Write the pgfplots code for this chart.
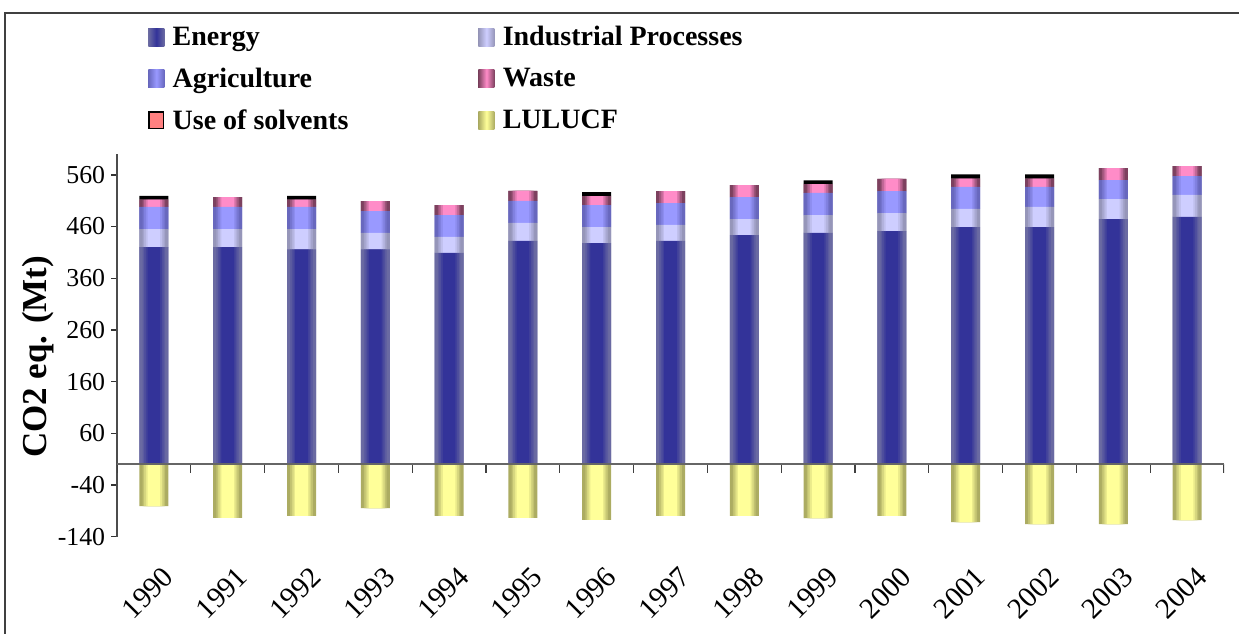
\documentclass[border=0pt]{standalone}
\usepackage{pgfplots}
\pgfplotsset{compat=1.18}
\usepackage{pgfplotstable}
\usepackage{fontspec}
\setmainfont{Liberation Serif}
\definecolor{enE}{RGB}{106,106,162}
\definecolor{enM}{RGB}{51,51,153}
\definecolor{ipE}{RGB}{150,150,185}
\definecolor{ipM}{RGB}{206,206,255}
\definecolor{agE}{RGB}{104,104,190}
\definecolor{agM}{RGB}{153,153,255}
\definecolor{waE}{RGB}{125,65,95}
\definecolor{waM}{RGB}{255,140,200}
\definecolor{soC}{RGB}{255,128,128}
\definecolor{luE}{RGB}{172,172,98}
\definecolor{luM}{RGB}{255,255,153}

% E energy, IP industrial processes, Ag agriculture, W waste, S use of solvents, L LULUCF (Mt CO2 eq.)
\pgfplotstableread{
x  E     IP    Ag    W     S    L
0  420   35    43    14.7  6.4  -81
1  420   35    43    19    0    -103.5
2  416   39    43    14.7  6.4  -100
3  416   31.5  42.5  19    0    -85
4  409   31    42    19.5  0    -100
5  432   35    42.5  19.5  0    -103.5
6  428   31    42.5  18    6.9  -107.5
7  432   31    42.5  23    0    -100
8  443.5 31    42.5  23    0    -100
9  447.5 34.5  43    17.3  7.1  -104
10 451   35    42.5  23.5  0    -100
11 459   35    42.5  16.8  7.5  -112
12 459   39    38.5  16.8  7.5  -115.5
13 474.5 38.5  37    23    0    -115.5
14 478.5 42.5  36.5  19.5  0    -108
}\data

\pgfplotsset{
  legshade/.style n args={2}{legend image code/.code={%
    \path[draw=none, left color=#1, right color=#1, middle color=#2] (0pt,-5.4pt) rectangle (9.6pt,5.4pt);
    \path[draw=none, fill=none] (9.6pt,0pt) -- (12.6pt,0pt);}},
  common/.style={
    width=664.2pt, height=229.5pt, scale only axis,
    at={(70.2pt,57.8pt)}, anchor=south west,
    xmin=-0.5, xmax=14.5, ymin=-140, ymax=600,
    bar width=17.4pt,
  },
}
\newcommand{\barlayer}[2]{%
\begin{axis}[common, hide axis, ybar stacked, bar width=#1]
\addplot[draw=none, fill=enM!#2!enE] table[x=x, y=E] {\data};
\addplot[draw=none, fill=ipM!#2!ipE] table[x=x, y=IP] {\data};
\addplot[draw=none, fill=agM!#2!agE] table[x=x, y=Ag] {\data};
\addplot[draw=none, fill=waM!#2!waE] table[x=x, y=W] {\data};
\end{axis}
\begin{axis}[common, hide axis, ybar, bar width=#1]
\addplot[draw=none, fill=luM!#2!luE] table[x=x, y=L] {\data};
\end{axis}}

\begin{document}
\begin{tikzpicture}
\path[use as bounding box] (0,0) rectangle (743.4pt,379.8pt);
\draw[line width=1.2pt, black!75] (3pt,-2pt) -- (3pt,372pt) -- (746pt,372pt);

\begin{axis}[common,
  ybar stacked,
  axis y line*=left, axis x line*=bottom,
  x axis line style={draw=none},
  y axis line style={black!70, line width=0.8pt},
  xtick={0,...,14},
  xticklabels={1990,1991,1992,1993,1994,1995,1996,1997,1998,1999,2000,2001,2002,2003,2004},
  major x tick style={draw=none},
  xticklabel style={rotate=45, anchor=east, xshift=-2.8pt, yshift=-18.7pt, font=\fontsize{17.5}{20}\selectfont},
  ytick={-140,-40,60,160,260,360,460,560},
  yticklabels={-140,-40,60,160,260,360,460,560},
  yticklabel style={font=\fontsize{15.5}{18}\selectfont},
  major y tick style={black!80, line width=0.8pt},
  tick align=outside, major tick length=3.6pt,
  ylabel={CO2 eq. (Mt)},
  every axis y label/.style={at={(axis description cs:-0.071,0.47)}, rotate=90, anchor=center, font=\bfseries\fontsize{21}{24}\selectfont},
  legend columns=2,
  legend style={draw=none, fill=none, at={(axis description cs:0.0235,1.352)}, anchor=north west,
    font=\bfseries\fontsize{16.8}{20}\selectfont, cells={anchor=west}, row sep=7.7pt,
    /tikz/every even column/.append style={column sep=76pt}},
]
\addplot[draw=none, fill=enE, legshade={enE}{enM}] table[x=x, y=E] {\data};
\addlegendentry{Energy}
\addplot[draw=none, fill=ipE, legshade={ipE}{ipM}] table[x=x, y=IP] {\data};
\addlegendentry{Industrial Processes}
\addplot[draw=none, fill=agE, legshade={agE}{agM}] table[x=x, y=Ag] {\data};
\addlegendentry{Agriculture}
\addplot[draw=none, fill=waE, legshade={waE}{waM}] table[x=x, y=W] {\data};
\addlegendentry{Waste}
\addplot[draw=none, fill=none,
  legend image code/.code={\draw[fill=soC, draw=black, line width=1pt] (0.5pt,-4.9pt) rectangle (9.1pt,4.9pt); \path[draw=none, fill=none] (9.6pt,0pt) -- (12.6pt,0pt);}] table[x=x, y=S] {\data};
\addlegendentry{Use of solvents}
\addlegendimage{draw=none, fill=none, legshade={luE}{luM}}
\addlegendentry{LULUCF}
\end{axis}

\barlayer{17.4pt}{0}
\barlayer{13.6pt}{25}
\barlayer{11.6pt}{50}
\barlayer{9.6pt}{75}
\barlayer{7.6pt}{100}

\begin{axis}[common, hide axis, ybar stacked]
\addplot[draw=none, fill=none] table[x=x, y=E] {\data};
\addplot[draw=none, fill=none] table[x=x, y=IP] {\data};
\addplot[draw=none, fill=none] table[x=x, y=Ag] {\data};
\addplot[draw=none, fill=none] table[x=x, y=W] {\data};
\addplot[draw=none, fill=black] table[x=x, y=S] {\data};
\draw[black!60, line width=1pt] (axis cs:-0.5,0) -- (axis cs:14.5,0);
\pgfplotsinvokeforeach{-0.5,0.5,...,14.5}{\draw[black!75, line width=0.8pt] (axis cs:#1,0) -- ++(0pt,-5.4pt);}
\end{axis}
\end{tikzpicture}
\end{document}
